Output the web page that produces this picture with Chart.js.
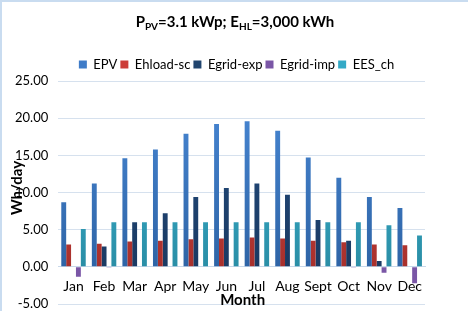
<!DOCTYPE html>
<html>
<head>
<meta charset="utf-8">
<script src="https://cdn.jsdelivr.net/npm/chart.js@4/dist/chart.umd.min.js"></script>
<style>
  html, body { margin: 0; padding: 0; background: #fff; }
  #wrap { position: relative; width: 468px; height: 311px; box-sizing: border-box; border-left: 2px solid #c9dcf0; border-top: 2px solid #c9dcf0; }
  #title { position: absolute; left: 0; right: 0; top: 10px; text-align: center; font: bold 15px Lato, sans-serif; color: #000; }
  #title sub { font-size: 10px; vertical-align: -3px; }
  canvas { position: absolute; left: 0; top: 0; }
</style>
</head>
<body>
<div id="wrap">
  <canvas id="chart" width="466" height="309"></canvas>
  <div id="title">P<sub>PV</sub>=3.1 kWp; E<sub>HL</sub>=3,000 kWh</div>
</div>
<script>
// monthly values, Wh/day
const months = ['Jan', 'Feb', 'Mar', 'Apr', 'May', 'Jun', 'Jul', 'Aug', 'Sept', 'Oct', 'Nov', 'Dec'];
const epv = [8.7, 11.2, 14.6, 15.8, 17.9, 19.2, 19.6, 18.3, 14.7, 12.0, 9.4, 7.9];
const ehloadSc = [3.0, 3.1, 3.4, 3.5, 3.7, 3.8, 3.95, 3.8, 3.5, 3.3, 3.0, 2.9];
const egridExp = [0, 2.75, 6.0, 7.2, 9.4, 10.6, 11.2, 9.7, 6.3, 3.5, 0.8, 0];
const egridImp = [-1.35, -0.1, 0, 0, 0, 0, 0, 0, 0, -0.1, -0.8, -2.2];
const eesCh = [5.1, 6.0, 6.0, 6.0, 6.0, 6.0, 6.0, 6.0, 6.0, 6.0, 5.6, 4.2];
const yTicks = [-5, 0, 5, 10, 15, 20, 25];

// vertical gradient like the Excel bars
function grad(top, bottom) {
  return (ctx) => {
    const area = ctx.chart.chartArea;
    if (!area) return top;
    const y0 = ctx.chart.scales.y.getPixelForValue(0);
    const g = ctx.chart.ctx.createLinearGradient(0, area.top, 0, y0);
    g.addColorStop(0, top);
    g.addColorStop(1, bottom);
    return g;
  };
}

// axis titles drawn next to the plot, the way Excel places them
const axisTitles = {
  id: 'axisTitles',
  afterDraw(chart) {
    const { ctx, chartArea } = chart;
    ctx.save();
    ctx.fillStyle = '#000';
    ctx.textAlign = 'center';
    ctx.textBaseline = 'middle';
    ctx.font = 'bold 15px Lato';
    ctx.fillText('Month', (chartArea.left + chartArea.right) / 2 + 1, chartArea.bottom - 4);
    ctx.translate(chartArea.left - 41, chartArea.top + 107);
    ctx.rotate(-Math.PI / 2);
    ctx.font = 'bold 15px Lato';
    ctx.fillText('Wh/day', 0, 0);
    ctx.restore();
  }
};

// centre the legend on the whole picture, not on the padded box
const legendShift = {
  id: 'legendShift',
  afterLayout(chart) {
    chart.legend.left = 24;
    chart.legend.right = 445;
  }
};

new Chart(document.getElementById('chart'), {
  type: 'bar',
  data: {
    labels: months,
    datasets: [
      { label: 'EPV', data: epv, backgroundColor: grad('#4a8ad8', '#2e64a6'), legendColor: '#3f7cc8' },
      { label: 'Ehload-sc', data: ehloadSc, backgroundColor: grad('#e04b45', '#a8302c'), legendColor: '#cc3d38' },
      { label: 'Egrid-exp', data: egridExp, backgroundColor: grad('#254f82', '#1a3a63'), legendColor: '#21456f' },
      { label: 'Egrid-imp', data: egridImp, backgroundColor: '#7a56a6', legendColor: '#7a56a6' },
      { label: 'EES_ch', data: eesCh, backgroundColor: grad('#3ebcd9', '#2a8ea6'), legendColor: '#33a9c6' }
    ]
  },
  plugins: [axisTitles, legendShift],
  options: {
    animation: false,
    responsive: false,
    layout: { padding: { top: 53, right: 43, bottom: 7, left: 3 } },
    datasets: { bar: { categoryPercentage: 0.8, barPercentage: 1.0 } },
    plugins: {
      legend: {
        position: 'top',
        labels: {
          boxWidth: 8, boxHeight: 8, padding: 3, color: '#000',
          font: { family: 'Lato', size: 13 },
          generateLabels: (chart) => chart.data.datasets.map((ds, i) => ({
            text: ds.label, fillStyle: ds.legendColor, strokeStyle: ds.legendColor,
            lineWidth: 0, datasetIndex: i
          }))
        }
      },
      tooltip: { enabled: false }
    },
    scales: {
      x: {
        position: { y: 0 },
        afterFit: (scale) => { scale.height = 0; },
        grid: { display: false },
        border: { color: '#c8d8ea', width: 1 },
        ticks: { color: '#000', padding: 3, maxRotation: 0, autoSkip: false, font: { family: 'Lato', size: 14 } }
      },
      y: {
        min: -5, max: 25,
        afterBuildTicks: (axis) => { axis.ticks = yTicks.map(v => ({ value: v })); },
        afterFit: (scale) => { scale.paddingTop = 0; scale.paddingBottom = 0; },
        grid: { color: '#d6e1ee', drawTicks: false },
        border: { display: false },
        ticks: { color: '#000', padding: 10, font: { family: 'Lato', size: 13 }, callback: (v) => v.toFixed(2) }
      }
    }
  }
});
</script>
</body>
</html>
